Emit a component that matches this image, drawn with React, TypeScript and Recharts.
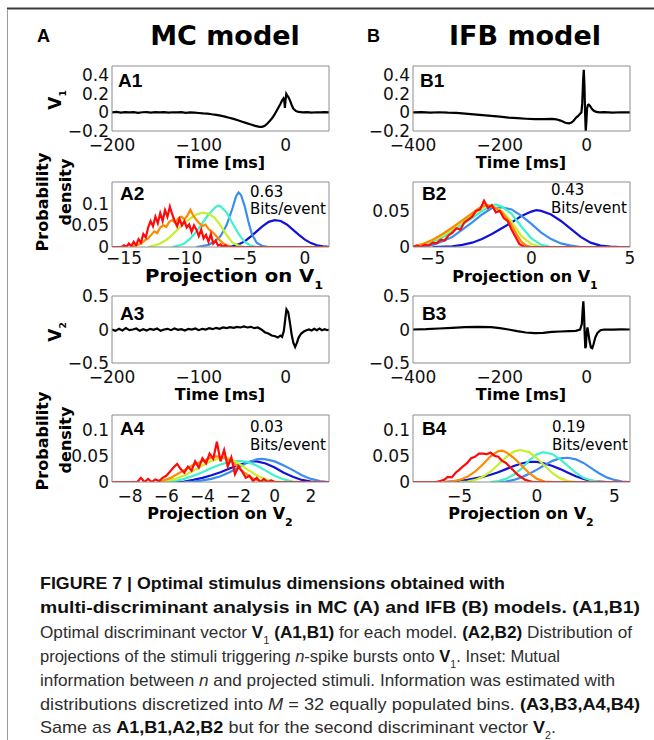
import React from 'react';
import { LineChart, Line, XAxis, YAxis } from 'recharts';

type Pt = [number, number];

// burst classes n = 1..6, jet colours
const C_BLUE = '#1212d6';
const C_LBLUE = '#3b8ef0';
const C_CYAN = '#3ff2cc';
const C_YGREEN = '#c4f02c';
const C_ORANGE = '#ff8a00';
const C_RED = '#ff0a0a';

// A1: first discriminant vector, MC model (time in ms)
const A1_V1: Pt[] = [
  [-200, 0], [-195, 0.005], [-190, -0.003], [-185, 0.004], [-180, 0], [-175, 0.003], [-170, -0.004],
  [-165, 0.002], [-160, 0.004], [-155, -0.002], [-150, 0.003], [-145, 0], [-140, 0.004], [-135, -0.003],
  [-130, 0.002], [-125, 0], [-120, 0.003], [-115, -0.004], [-110, 0], [-105, -0.003], [-100, -0.006],
  [-95, -0.01], [-90, -0.012], [-85, -0.02], [-80, -0.026], [-75, -0.035], [-70, -0.045], [-65, -0.058],
  [-60, -0.07], [-55, -0.085], [-50, -0.1], [-45, -0.115], [-40, -0.13], [-35, -0.145], [-30, -0.155],
  [-27, -0.155], [-24, -0.145], [-21, -0.12], [-18, -0.09], [-15, -0.055], [-12, -0.01], [-9, 0.04],
  [-6, 0.09], [-4, 0.13], [-2.5, 0.15], [-1.5, 0.12], [-0.8, 0.05], [0, 0.14], [0.8, 0.2], [2, 0.18],
  [3.5, 0.16], [5, 0.13], [7, 0.08], [9, 0.04], [12, 0.015], [15, 0.005], [20, 0], [25, 0.003],
  [30, -0.002], [35, 0.002], [40, 0], [45, 0.003], [50, 0],
];

// B1: first discriminant vector, IFB model
const B1_V1: Pt[] = [
  [-400, 0], [-380, 0.003], [-360, -0.002], [-340, 0.002], [-320, -0.003], [-300, -0.005], [-280, -0.012],
  [-260, -0.02], [-240, -0.03], [-220, -0.038], [-200, -0.045], [-180, -0.055], [-160, -0.062],
  [-140, -0.068], [-120, -0.072], [-100, -0.072], [-80, -0.07], [-70, -0.074], [-60, -0.088],
  [-50, -0.108], [-45, -0.116], [-40, -0.118], [-35, -0.11], [-30, -0.09], [-25, -0.06], [-20, -0.04],
  [-15, -0.015], [-12, 0.0], [-10, 0.1], [-8, 0.35], [-6.5, 0.46], [-5, 0.3], [-3.5, 0], [-2, -0.2],
  [-0.5, -0.1], [1, 0.04], [3, 0.08], [5, 0.085], [8, 0.07], [12, 0.04], [16, 0.02], [22, 0.005],
  [30, 0], [40, 0.003], [60, -0.002], [80, 0.002], [100, 0],
];

// A3: second discriminant vector, MC model
const A3_V2: Pt[] = [
  [-200, 0], [-196, -0.02], [-192, 0.01], [-188, -0.015], [-184, 0.02], [-180, -0.01], [-176, 0],
  [-172, 0.015], [-168, -0.02], [-164, 0.005], [-160, -0.015], [-156, 0.01], [-152, -0.005],
  [-148, 0.015], [-144, -0.02], [-140, 0], [-136, 0.01], [-132, -0.01], [-128, 0.015], [-124, -0.005],
  [-120, 0.005], [-116, -0.015], [-112, 0.01], [-108, 0], [-104, 0.015], [-100, -0.01], [-96, 0.01],
  [-92, 0], [-88, 0.02], [-84, 0.005], [-80, 0.025], [-76, 0.01], [-72, 0.03], [-68, 0.02],
  [-64, 0.035], [-60, 0.025], [-56, 0.04], [-52, 0.03], [-48, 0.045], [-44, 0.03], [-40, 0.04],
  [-36, 0.02], [-32, 0.03], [-28, 0], [-24, -0.04], [-20, -0.06], [-16, -0.09], [-12, -0.1],
  [-9, -0.12], [-6, -0.09], [-4, -0.11], [-2, -0.02], [0, 0.2], [1, 0.3], [3, 0.26], [5, 0.1],
  [7, -0.08], [9, -0.2], [11, -0.26], [13, -0.2], [15, -0.12], [18, -0.06], [21, -0.03], [24, -0.01],
  [27, 0], [30, -0.015], [33, 0.01], [36, -0.01], [39, 0.015], [42, -0.01], [45, 0.005], [48, -0.01],
  [50, 0],
];

// B3: second discriminant vector, IFB model
const B3_V2: Pt[] = [
  [-400, 0], [-370, 0.005], [-340, 0.015], [-310, 0.025], [-280, 0.035], [-250, 0.04], [-220, 0.035],
  [-200, 0.02], [-180, 0], [-160, -0.025], [-140, -0.045], [-120, -0.055], [-100, -0.05], [-80, -0.035],
  [-60, -0.03], [-40, -0.025], [-25, -0.02], [-15, 0], [-11, 0.08], [-9, 0.3], [-7.5, 0.42], [-6, 0.25],
  [-4.5, -0.05], [-3, -0.28], [-1.5, -0.25], [0, -0.05], [2, 0.03], [4, -0.05], [7, -0.18], [10, -0.27],
  [13, -0.28], [16, -0.22], [20, -0.12], [25, -0.05], [32, -0.01], [40, 0], [60, -0.003], [80, 0.002],
  [100, 0],
];

// A2: projections on V1, MC model
const A2_N1: Pt[] = [
  [-7, 0], [-6, 0.002], [-5.5, 0.006], [-5, 0.013], [-4.5, 0.024], [-4, 0.036], [-3.5, 0.048], [-3, 0.058],
  [-2.5, 0.062], [-2, 0.06], [-1.5, 0.052], [-1, 0.04], [-0.5, 0.028], [0, 0.017], [0.5, 0.009],
  [1, 0.004], [1.5, 0.0015], [2, 0.0005],
];
const A2_N2: Pt[] = [
  [-9, 0], [-8.5, 0.002], [-8, 0.005], [-7.5, 0.012], [-7, 0.025], [-6.5, 0.05], [-6, 0.09], [-5.7, 0.118],
  [-5.5, 0.126], [-5.3, 0.12], [-5, 0.095], [-4.7, 0.06], [-4.4, 0.03], [-4, 0.01], [-3.5, 0.002], [-3, 0],
];
const A2_N3: Pt[] = [
  [-11, 0], [-10.5, 0.003], [-10, 0.008], [-9.5, 0.02], [-9, 0.035], [-8.5, 0.055], [-8, 0.075],
  [-7.5, 0.09], [-7.2, 0.096], [-7, 0.094], [-6.5, 0.08], [-6, 0.055], [-5.5, 0.03], [-5, 0.012],
  [-4.5, 0.003], [-4, 0],
];
const A2_N4: Pt[] = [
  [-13, 0], [-12.5, 0.003], [-12, 0.008], [-11.5, 0.016], [-11, 0.028], [-10.5, 0.042], [-10, 0.055],
  [-9.5, 0.066], [-9, 0.075], [-8.5, 0.079], [-8, 0.077], [-7.5, 0.068], [-7, 0.05], [-6.5, 0.028],
  [-6, 0.01], [-5.5, 0.003], [-5, 0],
];
const A2_N5: Pt[] = [
  [-14.5, 0], [-14.25, 0.002], [-14, 0.004], [-13.75, 0.006], [-13.5, 0.01], [-13.25, 0.016], [-13, 0.02],
  [-12.75, 0.028], [-12.5, 0.036], [-12.25, 0.032], [-12, 0.045], [-11.75, 0.05], [-11.5, 0.046],
  [-11.25, 0.058], [-11, 0.062], [-10.75, 0.056], [-10.5, 0.066], [-10.25, 0.07], [-10, 0.064],
  [-9.75, 0.072], [-9.5, 0.086], [-9.25, 0.072], [-9, 0.062], [-8.75, 0.055], [-8.5, 0.048],
  [-8.25, 0.052], [-8, 0.042], [-7.75, 0.036], [-7.5, 0.03], [-7.25, 0.022], [-7, 0.014], [-6.75, 0.008],
  [-6.5, 0.004], [-6.25, 0.002], [-6, 0],
];
const A2_N6: Pt[] = [
  [-16, 0], [-15.2, 0], [-15, 0.004], [-14.8, 0], [-14.6, 0.008], [-14.4, 0.002], [-14.2, 0.012],
  [-14, 0.004], [-13.8, 0.018], [-13.6, 0.01], [-13.4, 0.03], [-13.2, 0.022], [-13, 0.045], [-12.8, 0.06],
  [-12.6, 0.048], [-12.4, 0.07], [-12.2, 0.055], [-12, 0.078], [-11.8, 0.06], [-11.6, 0.085],
  [-11.4, 0.07], [-11.2, 0.093], [-11, 0.075], [-10.8, 0.06], [-10.6, 0.048], [-10.4, 0.065],
  [-10.2, 0.05], [-10, 0.06], [-9.8, 0.045], [-9.6, 0.052], [-9.4, 0.035], [-9.2, 0.05], [-9, 0.04],
  [-8.8, 0.025], [-8.6, 0.04], [-8.4, 0.02], [-8.2, 0.028], [-8, 0.012], [-7.8, 0.03], [-7.6, 0.008],
  [-7.4, 0.015], [-7.2, 0.003], [-7, 0.006], [-6.8, 0], [-6.6, 0.004], [-6.4, 0], [2, 0],
];

// B2: projections on V1, IFB model
const B2_N1: Pt[] = [
  [-5, 0], [-4, 0.001], [-3.5, 0.003], [-3, 0.006], [-2.5, 0.011], [-2, 0.018], [-1.5, 0.026], [-1, 0.034],
  [-0.5, 0.043], [0, 0.049], [0.25, 0.051], [0.5, 0.05], [1, 0.045], [1.5, 0.036], [2, 0.025],
  [2.5, 0.014], [3, 0.006], [3.5, 0.002], [4, 0.0005], [4.5, 0],
];
const B2_N2: Pt[] = [
  [-6, 0], [-5.5, 0.001], [-5, 0.003], [-4.5, 0.008], [-4, 0.014], [-3.5, 0.024], [-3, 0.034], [-2.5, 0.045],
  [-2, 0.054], [-1.5, 0.055], [-1, 0.052], [-0.5, 0.043], [0, 0.032], [0.5, 0.02], [1, 0.011],
  [1.5, 0.005], [2, 0.002], [2.5, 0],
];
const B2_N3: Pt[] = [
  [-6, 0], [-5.5, 0.003], [-5, 0.007], [-4.5, 0.013], [-4, 0.022], [-3.5, 0.031], [-3, 0.04], [-2.5, 0.05],
  [-2, 0.057], [-1.8, 0.059], [-1.5, 0.056], [-1, 0.046], [-0.5, 0.028], [0, 0.012], [0.5, 0.003], [1, 0],
];
const B2_N4: Pt[] = [
  [-6, 0], [-5.5, 0.004], [-5, 0.009], [-4.5, 0.016], [-4, 0.025], [-3.5, 0.035], [-3, 0.045], [-2.5, 0.054],
  [-2.2, 0.058], [-2, 0.057], [-1.5, 0.05], [-1, 0.035], [-0.5, 0.015], [0, 0.004], [0.5, 0],
];
const B2_N5: Pt[] = [
  [-6, 0.001], [-5.5, 0.004], [-5, 0.01], [-4.5, 0.018], [-4, 0.027], [-3.5, 0.037], [-3, 0.047],
  [-2.75, 0.052], [-2.5, 0.056], [-2.25, 0.058], [-2, 0.056], [-1.75, 0.053], [-1.5, 0.048],
  [-1.25, 0.04], [-1, 0.03], [-0.75, 0.018], [-0.5, 0.007], [-0.25, 0.002], [0, 0],
];
const B2_N6: Pt[] = [
  [-6, 0], [-5.8, 0.002], [-5.6, 0], [-5.4, 0.003], [-5.2, 0.002], [-5, 0.006], [-4.8, 0.005], [-4.6, 0.01],
  [-4.4, 0.009], [-4.2, 0.016], [-4, 0.02], [-3.8, 0.026], [-3.6, 0.024], [-3.4, 0.034], [-3.2, 0.038],
  [-3, 0.042], [-2.8, 0.05], [-2.6, 0.052], [-2.4, 0.064], [-2.2, 0.054], [-2, 0.058], [-1.8, 0.048],
  [-1.6, 0.05], [-1.4, 0.04], [-1.2, 0.036], [-1, 0.024], [-0.8, 0.014], [-0.6, 0.004], [-0.4, 0.001],
  [-0.2, 0], [5, 0],
];

// A4: projections on V2, MC model
const A4_N1: Pt[] = [
  [-6, 0], [-5, 0.001], [-4.5, 0.004], [-4, 0.008], [-3.5, 0.013], [-3, 0.019], [-2.5, 0.026], [-2, 0.033],
  [-1.5, 0.038], [-1.2, 0.04], [-1, 0.04], [-0.5, 0.036], [0, 0.028], [0.5, 0.018], [1, 0.01],
  [1.5, 0.004], [2, 0.001], [2.5, 0],
];
const A4_N2: Pt[] = [
  [-5, 0], [-4.5, 0.001], [-4, 0.003], [-3.5, 0.006], [-3, 0.011], [-2.5, 0.019], [-2, 0.028], [-1.5, 0.038],
  [-1, 0.044], [-0.7, 0.045], [-0.5, 0.044], [0, 0.04], [0.5, 0.032], [1, 0.023], [1.5, 0.013],
  [2, 0.006], [2.5, 0.002], [3, 0],
];
const A4_N3: Pt[] = [
  [-6, 0], [-5.5, 0.002], [-5, 0.006], [-4.5, 0.012], [-4, 0.019], [-3.5, 0.027], [-3, 0.034], [-2.5, 0.039],
  [-2, 0.041], [-1.5, 0.039], [-1, 0.032], [-0.5, 0.022], [0, 0.012], [0.5, 0.005], [1, 0.001], [1.5, 0],
];
const A4_N4: Pt[] = [
  [-6.5, 0], [-6, 0.002], [-5.5, 0.006], [-5, 0.013], [-4.5, 0.022], [-4, 0.032], [-3.5, 0.041], [-3, 0.047],
  [-2.7, 0.048], [-2.5, 0.046], [-2, 0.036], [-1.5, 0.024], [-1, 0.013], [-0.5, 0.005], [0, 0.001], [0.5, 0],
];
const A4_N5: Pt[] = [
  [-6.5, 0], [-6.25, 0.002], [-6, 0.005], [-5.75, 0.008], [-5.5, 0.013], [-5.25, 0.018], [-5, 0.023],
  [-4.75, 0.028], [-4.5, 0.033], [-4.25, 0.037], [-4, 0.04], [-3.75, 0.044], [-3.5, 0.047], [-3.25, 0.05],
  [-3, 0.048], [-2.75, 0.046], [-2.5, 0.042], [-2.25, 0.036], [-2, 0.028], [-1.75, 0.02], [-1.5, 0.014],
  [-1.25, 0.008], [-1, 0.004], [-0.75, 0.002], [-0.5, 0],
];
const A4_N6: Pt[] = [
  [-9, 0], [-7.6, 0], [-7.4, 0.008], [-7.2, 0], [-7, 0.006], [-6.8, 0], [-6.6, 0.005], [-6.4, 0.002],
  [-6.2, 0.008], [-6, 0.012], [-5.8, 0.02], [-5.6, 0.028], [-5.4, 0.035], [-5.2, 0.025], [-5, 0.018],
  [-4.8, 0.03], [-4.6, 0.022], [-4.4, 0.04], [-4.2, 0.028], [-4, 0.046], [-3.8, 0.036], [-3.6, 0.055],
  [-3.4, 0.045], [-3.2, 0.078], [-3, 0.04], [-2.8, 0.062], [-2.6, 0.03], [-2.4, 0.048], [-2.2, 0.015],
  [-2, 0.03], [-1.8, 0.02], [-1.6, 0.008], [-1.4, 0.012], [-1.2, 0.002], [-1, 0.008], [-0.8, 0],
  [-0.6, 0.006], [-0.4, 0], [-0.2, 0.003], [0, 0], [3, 0],
];

// B4: projections on V2, IFB model
const B4_N1: Pt[] = [
  [-6, 0], [-5.5, 0.001], [-5, 0.002], [-4.5, 0.004], [-4, 0.007], [-3.5, 0.01], [-3, 0.014], [-2.5, 0.019],
  [-2, 0.025], [-1.5, 0.031], [-1, 0.036], [-0.5, 0.039], [0, 0.039], [0.5, 0.036], [1, 0.031],
  [1.5, 0.025], [2, 0.018], [2.5, 0.011], [3, 0.006], [3.5, 0.002], [4, 0.001], [4.5, 0],
];
const B4_N2: Pt[] = [
  [-2.5, 0], [-2, 0.001], [-1.5, 0.004], [-1, 0.009], [-0.5, 0.016], [0, 0.024], [0.5, 0.033], [1, 0.041],
  [1.5, 0.046], [2, 0.047], [2.5, 0.044], [3, 0.037], [3.5, 0.027], [4, 0.017], [4.5, 0.009], [5, 0.004],
  [5.5, 0.001], [6, 0],
];
const B4_N3: Pt[] = [
  [-3, 0], [-2.5, 0.002], [-2, 0.006], [-1.5, 0.014], [-1, 0.026], [-0.5, 0.042], [0, 0.054], [0.4, 0.058],
  [1, 0.054], [1.5, 0.044], [2, 0.031], [2.5, 0.018], [3, 0.008], [3.5, 0.003], [4, 0.001], [4.5, 0],
];
const B4_N4: Pt[] = [
  [-5, 0], [-4.5, 0.001], [-4, 0.004], [-3.5, 0.01], [-3, 0.02], [-2.5, 0.034], [-2, 0.048], [-1.5, 0.059],
  [-1.1, 0.062], [-0.5, 0.058], [0, 0.046], [0.5, 0.031], [1, 0.017], [1.5, 0.007], [2, 0.002], [2.5, 0],
];
const B4_N5: Pt[] = [
  [-6, 0], [-5.5, 0.001], [-5, 0.004], [-4.5, 0.01], [-4, 0.02], [-3.5, 0.034], [-3, 0.05], [-2.5, 0.06],
  [-2.25, 0.061], [-2, 0.058], [-1.5, 0.047], [-1, 0.032], [-0.5, 0.017], [0, 0.006], [0.5, 0.001], [1, 0],
];
const B4_N6: Pt[] = [
  [-8, 0], [-6.5, 0], [-6.25, 0.002], [-6, 0.004], [-5.75, 0.01], [-5.5, 0.009], [-5.25, 0.018],
  [-5, 0.024], [-4.75, 0.031], [-4.5, 0.037], [-4.25, 0.046], [-4, 0.049], [-3.75, 0.055], [-3.5, 0.055],
  [-3.25, 0.054], [-3, 0.057], [-2.75, 0.051], [-2.5, 0.049], [-2.25, 0.041], [-2, 0.037], [-1.75, 0.029],
  [-1.5, 0.022], [-1.25, 0.014], [-1, 0.009], [-0.75, 0.004], [-0.5, 0.002], [-0.25, 0], [6, 0],
];

// axis ticks
const T_MC = [-200, -100, 0];
const T_IFB = [-400, -200, 0];
const T_V1 = [-0.2, 0, 0.2, 0.4];
const T_V2 = [-0.5, 0, 0.5];
const T_A2X = [-15, -10, -5, 0];
const T_B2X = [-5, 0, 5];
const T_A4X = [-8, -6, -4, -2, 0, 2];
const T_B4X = [-5, 0, 5];
const T_PD = [0, 0.05, 0.1];
const T_PD_B2 = [0, 0.05];

const BOX = '#8c8c8c';
const TICK = { fontSize: 17, fontFamily: 'DejaVu Sans', fill: '#111' };
const fmt = (v: number) => String(v).replace('-', '\u2212');

interface Box { x: number; y: number; w: number; h: number }
interface Trace { pts: Pt[]; color: string }

const jet = (n1: Pt[], n2: Pt[], n3: Pt[], n4: Pt[], n5: Pt[], n6: Pt[]): Trace[] => [
  { pts: n1, color: C_BLUE },
  { pts: n2, color: C_LBLUE },
  { pts: n3, color: C_CYAN },
  { pts: n4, color: C_YGREEN },
  { pts: n5, color: C_ORANGE },
  { pts: n6, color: C_RED },
];

const Panel = ({ box, xd, yd, xt, yt, traces, xm = 8 }: {
  box: Box; xd: [number, number]; yd: [number, number]; xt: number[]; yt: number[]; traces: Trace[]; xm?: number;
}) => {
  const YW = 60, M = 14, XH = 34;
  const ax = { type: 'number' as const, allowDataOverflow: true, interval: 0 as const };
  return (
    <div style={{ position: 'absolute', left: box.x - YW, top: box.y - M }}>
      <LineChart width={YW + box.w + 6} height={M + box.h + XH} margin={{ top: M, right: 6, bottom: 0, left: 0 }}>
        <XAxis {...ax} dataKey="x" domain={xd} ticks={xt} height={XH} stroke={BOX} tickLine={false}
          tickSize={0} tickMargin={xm} tick={TICK} tickFormatter={fmt} />
        <XAxis {...ax} xAxisId="in" dataKey="x" orientation="bottom" mirror domain={xd} ticks={xt}
          axisLine={false} tick={false} tickSize={3} stroke={BOX} />
        <XAxis {...ax} xAxisId="top" dataKey="x" orientation="top" mirror domain={xd} ticks={xt}
          tick={false} tickSize={3} stroke={BOX} />
        <YAxis {...ax} domain={yd} ticks={yt} width={YW} stroke={BOX} tickLine={false} tickSize={0}
          tickMargin={3} tick={TICK} tickFormatter={fmt} />
        <YAxis {...ax} yAxisId="in" orientation="left" mirror domain={yd} ticks={yt} axisLine={false}
          tick={false} tickSize={3} stroke={BOX} />
        <YAxis {...ax} yAxisId="right" orientation="right" mirror domain={yd} ticks={yt} tick={false}
          tickSize={3} stroke={BOX} />
        {traces.map((t, i) => (
          <Line key={i} data={t.pts.map(([x, y]) => ({ x, y }))} dataKey="y" type="linear" stroke={t.color}
            strokeWidth={2.2} dot={false} isAnimationActive={false} />
        ))}
      </LineChart>
    </div>
  );
};

const BOLD = { fontFamily: 'DejaVu Sans', fontWeight: 700 };
const LAB = { fontFamily: 'Liberation Sans', fontWeight: 700, fontSize: 19 };
const NOTE = { fontFamily: 'DejaVu Sans', fontSize: 15 };
const CAP = { fontFamily: 'Liberation Sans', fontSize: 17, fill: '#2e2e2e' };
const CB = { fontWeight: 700, fill: '#111' };

const Sub = ({ s, size = 11 }: { s: string; size?: number }) => (
  <tspan baselineShift="sub" fontSize={size}>{s}</tspan>
);

const A1B: Box = { x: 112, y: 66, w: 217, h: 65 };
const B1B: Box = { x: 413, y: 66, w: 217, h: 65 };
const A2B: Box = { x: 112, y: 182, w: 217, h: 65 };
const B2B: Box = { x: 413, y: 182, w: 217, h: 65 };
const A3B: Box = { x: 112, y: 296, w: 217, h: 67 };
const B3B: Box = { x: 413, y: 296, w: 217, h: 67 };
const A4B: Box = { x: 112, y: 415, w: 217, h: 67 };
const B4B: Box = { x: 413, y: 415, w: 217, h: 67 };

export default function App() {
  return (
    <div style={{ position: 'absolute', left: 0, top: 0, width: 654, height: 740, background: '#fff', overflow: 'hidden' }}>
      <Panel box={A1B} xd={[-200, 50]} yd={[-0.2, 0.5]} xt={T_MC} yt={T_V1} traces={[{ pts: A1_V1, color: '#000' }]} />
      <Panel box={B1B} xd={[-400, 100]} yd={[-0.2, 0.5]} xt={T_IFB} yt={T_V1} traces={[{ pts: B1_V1, color: '#000' }]} />
      <Panel box={A2B} xd={[-16, 2]} yd={[0, 0.15]} xt={T_A2X} yt={T_PD} xm={5} traces={jet(A2_N1, A2_N2, A2_N3, A2_N4, A2_N5, A2_N6)} />
      <Panel box={B2B} xd={[-6, 5]} yd={[0, 0.09]} xt={T_B2X} yt={T_PD_B2} xm={5} traces={jet(B2_N1, B2_N2, B2_N3, B2_N4, B2_N5, B2_N6)} />
      <Panel box={A3B} xd={[-200, 50]} yd={[-0.5, 0.5]} xt={T_MC} yt={T_V2} xm={8} traces={[{ pts: A3_V2, color: '#000' }]} />
      <Panel box={B3B} xd={[-400, 100]} yd={[-0.5, 0.5]} xt={T_IFB} yt={T_V2} xm={8} traces={[{ pts: B3_V2, color: '#000' }]} />
      <Panel box={A4B} xd={[-9, 3]} yd={[0, 0.13]} xt={T_A4X} yt={T_PD} xm={8} traces={jet(A4_N1, A4_N2, A4_N3, A4_N4, A4_N5, A4_N6)} />
      <Panel box={B4B} xd={[-8, 6]} yd={[0, 0.13]} xt={T_B4X} yt={T_PD} xm={8} traces={jet(B4_N1, B4_N2, B4_N3, B4_N4, B4_N5, B4_N6)} />

      <svg width={654} height={740} style={{ position: 'absolute', left: 0, top: 0, pointerEvents: 'none' }}>
        <line x1={7} y1={8.5} x2={654} y2={8.5} stroke="#3a3a3a" strokeWidth={2} />
        <line x1={7.5} y1={9} x2={7.5} y2={740} stroke="#9a9a9a" strokeWidth={1} />

        <text x={37} y={42} {...LAB} fontSize={18}>A</text>
        <text x={225} y={45} {...BOLD} fontSize={27} textAnchor="middle">MC model</text>
        <text x={367} y={42} {...LAB} fontSize={18}>B</text>
        <text x={525} y={45} {...BOLD} fontSize={27} textAnchor="middle">IFB model</text>

        <text x={118} y={87} {...LAB}>A1</text>
        <text x={420} y={87} {...LAB}>B1</text>
        <text x={120} y={200} {...LAB}>A2</text>
        <text x={422} y={200} {...LAB}>B2</text>
        <text x={120} y={320} {...LAB}>A3</text>
        <text x={422} y={320} {...LAB}>B3</text>
        <text x={120} y={435} {...LAB}>A4</text>
        <text x={422} y={435} {...LAB}>B4</text>

        <text transform="translate(61,100) rotate(-90)" {...BOLD} fontSize={17} textAnchor="middle">V<Sub s="1" size={9} /></text>
        <text transform="translate(61,332) rotate(-90)" {...BOLD} fontSize={17} textAnchor="middle">V<Sub s="2" size={9} /></text>
        <text transform="translate(48,202) rotate(-90)" {...BOLD} fontSize={16} textAnchor="middle">Probability</text>
        <text transform="translate(71,192) rotate(-90)" {...BOLD} fontSize={16} textAnchor="middle">density</text>
        <text transform="translate(48,441) rotate(-90)" {...BOLD} fontSize={16} textAnchor="middle">Probability</text>
        <text transform="translate(71,440) rotate(-90)" {...BOLD} fontSize={16} textAnchor="middle">density</text>

        <text x={220} y={168} {...BOLD} fontSize={16} textAnchor="middle">Time [ms]</text>
        <text x={521} y={168} {...BOLD} fontSize={16} textAnchor="middle">Time [ms]</text>
        <text x={220} y={400} {...BOLD} fontSize={16} textAnchor="middle">Time [ms]</text>
        <text x={521} y={400} {...BOLD} fontSize={16} textAnchor="middle">Time [ms]</text>
        <text x={145} y={282} {...BOLD} fontSize={17} textLength={178} lengthAdjust="spacingAndGlyphs">Projection on V<Sub s="1" /></text>
        <text x={525} y={282} {...BOLD} fontSize={16} textAnchor="middle">Projection on V<Sub s="1" /></text>
        <text x={220} y={519} {...BOLD} fontSize={16} textAnchor="middle">Projection on V<Sub s="2" /></text>
        <text x={521} y={519} {...BOLD} fontSize={16} textAnchor="middle">Projection on V<Sub s="2" /></text>

        <text x={250} y={197} {...NOTE}>0.63</text>
        <text x={250} y={214} {...NOTE}>Bits/event</text>
        <text x={551} y={195} {...NOTE}>0.43</text>
        <text x={551} y={213} {...NOTE}>Bits/event</text>
        <text x={250} y={432} {...NOTE}>0.03</text>
        <text x={250} y={450} {...NOTE}>Bits/event</text>
        <text x={552} y={432} {...NOTE}>0.19</text>
        <text x={552} y={450} {...NOTE}>Bits/event</text>

        <text x={40} y={589} {...CAP} {...CB} textLength={465} lengthAdjust="spacingAndGlyphs">
          FIGURE 7 | Optimal stimulus dimensions obtained with
        </text>
        <text x={40} y={613} {...CAP} {...CB} textLength={600} lengthAdjust="spacingAndGlyphs">
          multi-discriminant analysis in MC (A) and IFB (B) models. (A1,B1)
        </text>
        <text x={40} y={638} {...CAP} textLength={592} lengthAdjust="spacingAndGlyphs">
          Optimal discriminant vector <tspan {...CB}>V</tspan><Sub s="1" />{'  '}
          <tspan {...CB}>(A1,B1)</tspan> for each model. <tspan {...CB}>(A2,B2)</tspan> Distribution of
        </text>
        <text x={40} y={662} {...CAP} textLength={520} lengthAdjust="spacingAndGlyphs">
          projections of the stimuli triggering <tspan fontStyle="italic">n</tspan>-spike bursts onto <tspan {...CB}>V</tspan><Sub s="1" />. Inset: Mutual
        </text>
        <text x={40} y={686} {...CAP} textLength={575} lengthAdjust="spacingAndGlyphs">
          information between <tspan fontStyle="italic">n</tspan> and projected stimuli. Information was estimated with
        </text>
        <text x={40} y={710} {...CAP} textLength={600} lengthAdjust="spacingAndGlyphs">
          distributions discretized into <tspan fontStyle="italic">M</tspan> = 32 equally populated bins. <tspan {...CB}>(A3,B3,A4,B4)</tspan>
        </text>
        <text x={40} y={733} {...CAP} textLength={516} lengthAdjust="spacingAndGlyphs">
          Same as <tspan {...CB}>A1,B1,A2,B2</tspan> but for the second discriminant vector <tspan {...CB}>V</tspan><Sub s="2" size={10} />.
        </text>
      </svg>
    </div>
  );
}
